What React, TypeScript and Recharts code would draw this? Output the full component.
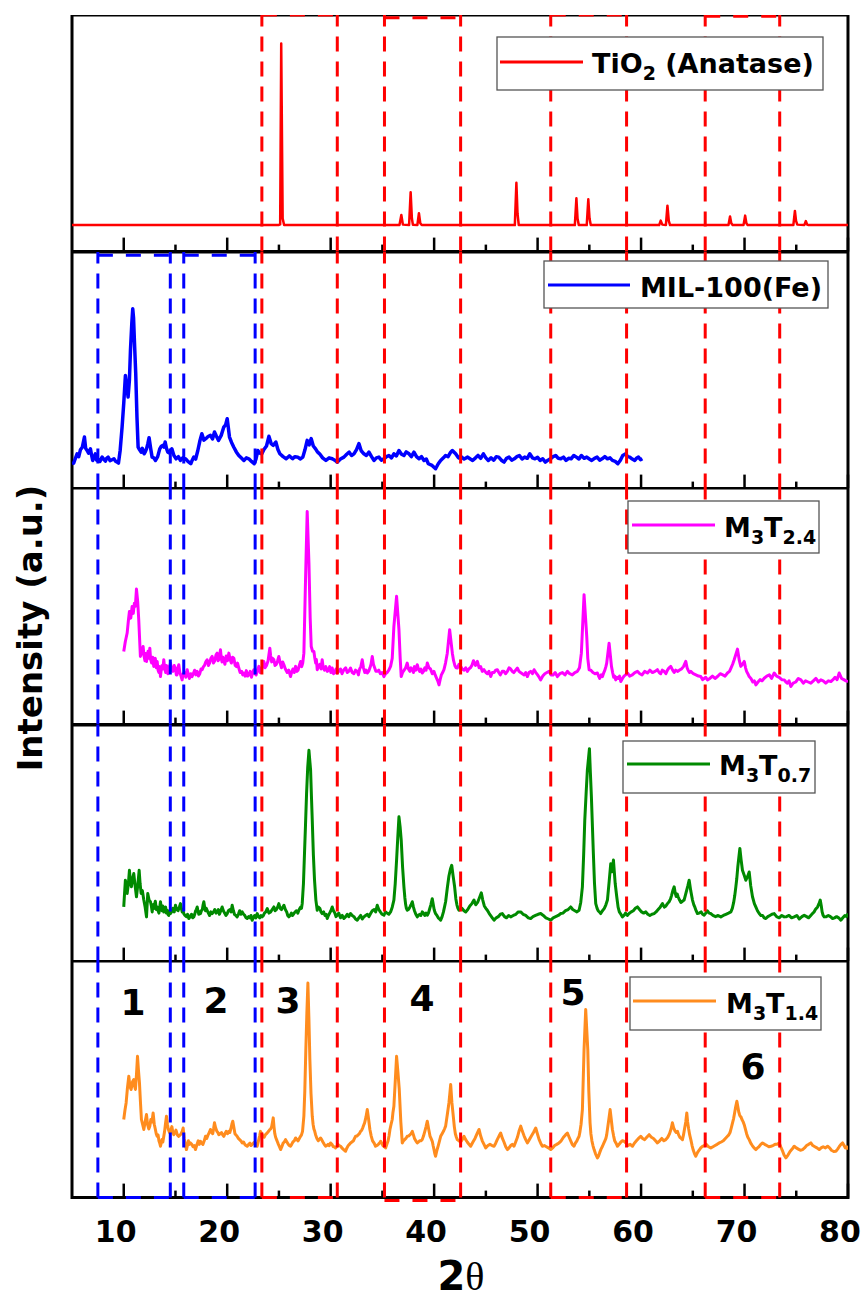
import { LineChart, Line, XAxis, YAxis, ReferenceLine, ReferenceArea, ReferenceDot } from "recharts"

type Pt = [number, number]

// 2θ axis
const xDomain: [number, number] = [5, 80]
const xTicks = [10, 15, 20, 25, 30, 35, 40, 45, 50, 55, 60, 65, 70, 75, 80]

// TiO2 (Anatase) reference pattern
const tio2: Pt[] = [
  [5, 11.2], [24.95, 11.2], [25.12, 11.5], [25.22, 88], [25.3, 45], [25.36, 14], [25.5, 11.2],
  [36.65, 11.2], [36.83, 15.5], [36.98, 11.4], [37.58, 11.2], [37.73, 25.1], [37.85, 14], [37.95, 11.3],
  [38.38, 11.2], [38.53, 16.2], [38.66, 12], [38.8, 11.2],
  [47.8, 11.2], [47.95, 29.1], [48.06, 16], [48.18, 11.2],
  [53.6, 11.2], [53.75, 22.5], [53.86, 14], [53.98, 11.2], [54.75, 11.2], [54.9, 22.1], [55.02, 14], [55.14, 11.2],
  [61.75, 11.2], [61.9, 13.1], [62.05, 11.4], [62.4, 11.2], [62.55, 19.4], [62.68, 13], [62.8, 11.2],
  [68.45, 11.2], [68.6, 14.8], [68.72, 12], [68.85, 11.2], [69.9, 11.2], [70.06, 15.2], [70.18, 12], [70.3, 11.2],
  [74.72, 11.2], [74.87, 17.2], [74.98, 13], [75.1, 11.4], [75.78, 11.2], [75.93, 12.9], [76.05, 11.4], [76.2, 11.2],
  [80, 11.2],
]

// MIL-100(Fe)
const mil100: Pt[] = [
  [5, 10.5], [5.17, 10.8], [5.3, 12.5], [5.49, 14.7], [5.65, 13.5], [5.81, 16.4], [6.0, 17.5], [6.2, 21.8],
  [6.32, 17], [6.46, 16.1], [6.6, 15], [6.78, 16.8], [6.9, 14], [7.0, 11.9], [7.12, 13], [7.26, 14.7],
  [7.38, 12], [7.49, 12.6], [7.7, 11.5], [7.91, 13.3], [8.05, 12.5], [8.23, 11.6], [8.35, 12.8], [8.49, 13.3],
  [8.68, 11.8], [8.87, 12.2], [9.05, 12.6], [9.2, 11.6], [9.35, 11.2], [9.49, 10.8], [9.65, 16],
  [9.84, 26.0], [10.0, 36], [10.16, 47.8], [10.3, 43], [10.42, 38.7], [10.55, 46], [10.65, 58.4], [10.78, 70],
  [10.87, 76.0], [10.95, 72], [11.03, 62.6], [11.16, 48.5], [11.28, 30],
  [11.39, 17.5], [11.52, 16.5], [11.68, 15.4], [11.8, 17], [11.97, 14.7], [12.08, 15.5], [12.2, 16.8],
  [12.33, 19], [12.45, 21.5], [12.6, 17], [12.74, 13.3], [12.9, 13], [13.07, 11.9], [13.28, 13.5],
  [13.48, 16.8], [13.62, 17.8], [13.77, 18.3], [13.9, 17.5], [14.0, 19.7], [14.13, 17], [14.26, 15.4],
  [14.45, 15], [14.65, 16.8], [14.85, 14], [15.06, 12.6], [15.28, 13.5], [15.48, 11.9], [15.7, 13],
  [15.97, 12.6], [16.2, 11.5], [16.48, 10.5], [16.62, 12], [16.77, 13.3], [16.95, 12.5], [17.16, 16.1],
  [17.35, 20], [17.55, 23.2], [17.75, 20.5], [17.93, 21.1], [18.15, 22], [18.38, 22.5], [18.58, 21],
  [18.77, 23.9], [18.97, 22], [19.16, 20.4], [19.42, 22.5], [19.67, 26.0], [19.85, 27], [20.0, 29.5],
  [20.1, 26], [20.22, 21.8], [20.42, 19.5], [20.64, 17.5], [20.88, 15.5], [21.12, 14.0], [21.35, 13],
  [21.61, 11.9], [21.85, 13], [22.09, 12.6], [22.35, 11.5], [22.61, 10.5], [22.78, 12.5], [22.96, 16.1],
  [23.15, 15], [23.35, 14.7], [23.55, 16.5], [23.8, 18], [24.03, 22.1], [24.25, 19], [24.45, 18.3],
  [24.7, 19.7], [24.9, 16.5], [25.09, 14.7], [25.4, 13.5], [25.7, 12.6], [26.0, 13.8], [26.32, 12.6],
  [26.55, 13.5], [26.83, 13.3], [27.05, 12.5], [27.31, 13.3], [27.52, 16.5],
  [27.73, 20.4], [27.92, 18.5], [28.12, 21.1], [28.32, 18], [28.54, 16.8], [28.72, 15.5], [28.93, 14.7],
  [29.22, 13], [29.54, 11.9], [29.85, 13], [30.15, 12.6], [30.4, 12], [30.63, 11.2], [30.95, 12.5],
  [31.28, 13.3], [31.55, 14.5], [31.79, 15.4], [32.02, 14], [32.25, 14.7], [32.5, 16.5], [32.73, 19.0],
  [32.95, 16], [33.21, 14.7], [33.45, 14], [33.7, 15.4], [33.95, 13.5], [34.18, 11.9], [34.42, 13],
  [34.66, 13.3], [34.9, 12], [35.15, 12.6], [35.4, 13.5], [35.63, 14.0], [35.88, 13], [36.11, 14.7],
  [36.35, 13.8], [36.6, 16.1], [36.85, 14.5], [37.08, 14.0], [37.3, 15.5], [37.57, 14.7], [37.8, 13.5],
  [38.05, 15.4], [38.3, 13.5], [38.53, 12.6], [38.78, 13.5], [39.02, 11.9], [39.24, 12.5], [39.44, 10.5],
  [39.8, 9.8], [40.14, 8.4], [40.4, 10.5], [40.63, 11.9], [40.9, 13], [41.11, 14.0], [41.35, 13.5],
  [41.6, 15.4], [41.76, 16.1], [42.08, 14.7], [42.35, 13], [42.6, 13.5], [42.9, 12.5], [43.24, 13.3],
  [43.5, 12.5], [43.72, 11.9], [44.0, 13], [44.24, 14.0], [44.5, 12.8], [44.76, 14.7], [45.0, 13],
  [45.24, 11.9], [45.5, 13], [45.76, 12.0], [46.0, 13.5], [46.24, 13.3], [46.5, 12], [46.76, 11.2],
  [47.0, 12.8], [47.24, 13.3], [47.5, 12], [47.75, 12.6], [48.0, 13.5], [48.24, 14.0], [48.5, 12.5],
  [48.75, 13.3], [49.0, 12.8], [49.24, 14.7], [49.5, 13], [49.75, 12.6], [50.0, 13.2], [50.24, 11.9],
  [50.5, 12.6], [50.75, 11.2], [51.0, 12], [51.24, 12.6], [51.5, 13.5], [51.75, 14.0], [52.0, 12.8],
  [52.24, 12.6], [52.5, 13.3], [52.75, 11.9], [53.0, 12.8], [53.24, 12.6], [53.5, 14], [53.75, 13.3],
  [54.0, 12.5], [54.23, 14.0], [54.5, 12.8], [54.75, 13.3], [55.0, 12.5], [55.23, 11.9], [55.5, 12.8],
  [55.75, 13.3], [56.0, 12], [56.23, 12.6], [56.5, 13.5], [56.75, 12.6], [57.0, 13], [57.23, 11.9],
  [57.5, 11.5], [57.75, 10.5], [58.0, 12], [58.23, 14.0], [58.52, 14.7], [58.7, 13.5], [58.91, 13.3],
  [59.15, 12.5], [59.39, 11.9], [59.55, 12.8], [59.75, 13.3], [59.95, 12.2], [60.13, 12.6],
]

// M3T2.4
const m3t24: Pt[] = [
  [10.0, 30.9], [10.15, 35], [10.33, 38.7], [10.45, 44], [10.55, 47.8], [10.68, 45], [10.81, 49.9],
  [10.92, 47], [11.03, 51.3], [11.12, 50], [11.23, 57.3], [11.35, 52], [11.45, 44.3],
  [11.61, 28.8], [11.75, 31], [11.87, 33.0], [11.96, 29], [12.05, 27.0], [12.12, 30], [12.2, 26.7],
  [12.28, 29], [12.35, 31], [12.43, 28], [12.52, 32.3], [12.6, 27.5], [12.7, 26], [12.8, 28.5],
  [12.9, 24.6], [12.97, 27], [13.05, 28], [13.15, 24], [13.23, 26.7], [13.32, 23], [13.4, 22],
  [13.48, 24.5], [13.55, 20.3], [13.62, 23], [13.7, 25], [13.78, 23.5], [13.87, 27.4], [13.95, 24],
  [14.05, 22], [14.12, 25], [14.19, 24.6], [14.27, 21.5], [14.35, 22], [14.43, 24.5], [14.52, 26.0],
  [14.62, 23], [14.75, 22.5], [14.88, 25], [15.0, 23.5], [15.08, 21], [15.15, 21], [15.23, 24],
  [15.32, 25.3], [15.42, 22], [15.5, 21], [15.57, 20], [15.64, 18.9], [15.75, 21.5], [15.9, 22],
  [16.0, 20], [16.13, 23.2], [16.25, 21], [16.35, 19.5], [16.48, 21.5], [16.61, 20.3], [16.72, 21.5],
  [16.85, 23], [16.97, 21], [17.1, 22.5], [17.22, 20.5], [17.35, 21.5], [17.47, 23.5], [17.58, 23.2],
  [17.7, 24.5], [17.8, 25], [17.93, 26.5], [18.06, 27.4], [18.18, 25], [18.3, 26], [18.42, 28],
  [18.55, 28.8], [18.67, 26], [18.8, 27], [18.92, 29.5], [19.03, 30.2], [19.12, 27], [19.2, 27.5],
  [19.28, 29.5], [19.35, 31.6], [19.43, 28], [19.5, 26.5], [19.58, 28.5], [19.67, 27.4], [19.78, 25.5],
  [19.9, 29], [20.02, 27], [20.16, 30.2], [20.28, 27.5], [20.4, 26], [20.52, 28.5], [20.64, 28.1],
  [20.77, 25], [20.9, 24.5], [21.0, 26], [21.12, 23.9], [21.25, 22], [21.4, 22.5], [21.5, 21],
  [21.61, 21.8], [21.72, 20.5], [21.85, 22.8], [21.97, 20.5], [22.09, 21.0], [22.22, 22.5], [22.35, 20],
  [22.45, 22], [22.58, 23.2], [22.68, 21.5], [22.8, 21], [22.92, 23], [23.06, 24.6], [23.18, 22],
  [23.3, 22.5], [23.42, 25], [23.54, 26.7], [23.66, 24], [23.8, 25], [23.95, 27], [24.12, 32.3],
  [24.2, 29], [24.3, 26.5], [24.4, 28], [24.51, 27.4], [24.62, 25], [24.75, 25.5], [24.87, 27],
  [24.99, 28.8], [25.12, 26], [25.25, 24], [25.36, 26.5], [25.48, 25.3], [25.62, 23.5], [25.8, 22],
  [25.95, 23], [26.12, 20.3], [26.22, 22], [26.35, 23.5], [26.48, 22], [26.61, 24.6], [26.73, 22.5],
  [26.85, 23], [26.97, 25], [27.09, 26.7], [27.2, 24.5], [27.3, 26], [27.41, 30.2], [27.57, 61.2],
  [27.73, 90.1], [27.9, 68.3], [28.02, 45], [28.12, 33.0], [28.25, 31], [28.38, 30.9], [28.47, 28],
  [28.55, 26], [28.62, 27.5], [28.7, 23.2], [28.82, 24.5], [28.95, 25.5], [29.07, 23.5],
  [29.18, 27.4], [29.28, 24], [29.4, 23], [29.53, 24.5], [29.67, 22.5], [29.78, 23], [29.9, 24.5],
  [30.02, 22], [30.15, 23.9], [30.28, 21.5], [30.4, 22], [30.52, 23.5], [30.63, 21.8], [30.78, 22.5],
  [30.95, 23.5], [31.1, 21.5], [31.28, 23.2], [31.45, 24], [31.6, 22], [31.75, 22.5], [31.92, 23.9],
  [32.08, 22], [32.25, 21.5], [32.4, 23], [32.57, 22.5], [32.68, 21], [32.8, 23.5], [32.92, 24.5],
  [33.05, 27.4], [33.17, 24], [33.3, 22], [33.42, 23], [33.54, 21.8], [33.67, 22.5], [33.8, 24],
  [33.9, 25.5], [34.02, 28.8], [34.13, 25.5], [34.25, 24], [34.37, 22.5], [34.5, 22.5], [34.65, 23],
  [34.8, 21.5], [34.97, 22], [35.15, 20.3], [35.3, 21.5], [35.45, 22], [35.62, 23], [35.79, 24.6],
  [35.95, 28], [36.11, 41.5], [36.37, 54.2], [36.6, 40.1], [36.72, 28],
  [36.82, 20.3], [36.95, 22], [37.1, 23], [37.25, 24], [37.4, 26.0], [37.52, 23.5], [37.65, 22.5],
  [37.77, 24], [37.89, 23.2], [38.0, 22], [38.1, 24.5], [38.23, 23], [38.37, 25.3], [38.48, 23.5],
  [38.6, 22.5], [38.72, 23.5], [38.85, 21.8], [38.97, 22.5], [39.1, 24], [39.22, 23], [39.34, 26.0],
  [39.5, 24], [39.65, 23.5], [39.82, 21.5], [39.98, 22.5], [40.1, 21], [40.2, 20],
  [40.35, 18.5], [40.47, 16.8], [40.58, 19], [40.7, 21], [40.82, 22], [40.95, 23.2], [41.1, 26],
  [41.27, 30.2], [41.5, 40.1], [41.76, 30.2], [41.88, 27], [42.0, 25], [42.12, 24],
  [42.24, 23.9], [42.4, 25.5], [42.56, 24.6], [42.72, 23.5], [42.9, 23], [43.05, 24], [43.21, 22.5],
  [43.35, 23.5], [43.5, 24], [43.65, 25], [43.8, 27], [44.0, 25], [44.18, 26.7], [44.35, 24],
  [44.5, 24.5], [44.65, 22.5], [44.82, 23.2], [45.0, 22], [45.15, 21.5], [45.3, 22.5], [45.47, 20.3],
  [45.62, 22], [45.8, 22], [45.95, 23], [46.11, 23.2], [46.25, 22], [46.4, 21], [46.58, 22.5],
  [46.75, 22.5], [46.9, 21.5], [47.08, 22.5], [47.24, 24], [47.4, 23.5], [47.55, 22.5], [47.7, 22],
  [47.88, 23], [48.05, 23.9], [48.2, 22.5], [48.35, 22], [48.52, 21.5], [48.7, 21], [48.85, 22],
  [49.01, 20.3], [49.17, 22], [49.33, 22.5], [49.5, 21.5], [49.66, 23.2], [49.83, 22], [50.0, 21],
  [50.15, 20], [50.3, 18.9], [50.5, 20.5], [50.7, 21.5], [50.9, 22], [51.11, 22.5], [51.3, 21],
  [51.5, 21], [51.7, 22], [51.91, 20.3], [52.15, 21.5], [52.4, 22], [52.65, 21], [52.88, 22.5],
  [53.1, 21.5], [53.35, 21], [53.6, 22], [53.85, 22.5], [54.05, 24], [54.23, 30.2], [54.49, 54.9],
  [54.75, 37.3], [54.85, 28], [54.98, 23.2], [55.15, 23], [55.35, 22], [55.55, 21.5], [55.78, 21.8],
  [55.9, 20.5], [56.0, 19.5], [56.15, 21], [56.27, 20.3], [56.4, 22], [56.5, 23], [56.6, 24.5],
  [56.68, 26.0], [56.91, 34.4], [57.14, 24.6], [57.25, 22], [57.35, 20], [57.45, 20.5], [57.55, 18.9],
  [57.68, 20], [57.8, 19.5], [57.92, 20.5], [58.04, 18.2], [58.2, 19.5], [58.35, 20.5], [58.5, 21],
  [58.68, 21.8], [58.9, 20.5], [59.15, 21], [59.4, 22], [59.65, 22.5], [59.88, 21.5], [60.1, 21],
  [60.35, 22.5], [60.62, 21.8], [60.85, 23], [61.1, 22], [61.35, 22.5], [61.58, 23.2], [61.75, 22],
  [61.9, 21.5], [62.05, 23], [62.23, 22.5], [62.4, 21.5], [62.55, 23], [62.7, 24], [62.87, 24.6],
  [63.05, 23], [63.2, 22], [63.35, 23], [63.52, 22.5], [63.7, 23], [63.9, 23.5], [64.1, 24.5],
  [64.32, 26.7], [64.45, 24], [64.55, 23], [64.68, 22], [64.81, 22.5], [65.05, 21.5], [65.3, 21],
  [65.55, 20.5], [65.77, 20.3], [65.95, 19], [66.1, 19.5], [66.25, 20], [66.42, 18.9], [66.65, 19.5],
  [66.9, 20.5], [67.15, 19.5], [67.39, 20.3], [67.65, 21.5], [67.9, 21], [68.12, 20.5], [68.35, 21.8],
  [68.55, 22.5], [68.7, 24], [68.85, 25.5], [69.0, 27.4], [69.32, 31.9], [69.5, 27],
  [69.64, 24.6], [69.8, 25.5], [69.97, 26.7], [70.1, 24], [70.2, 22.5], [70.32, 21.5], [70.45, 20.3],
  [70.62, 19.5], [70.8, 18], [70.95, 18.5], [71.1, 16.8], [71.3, 18], [71.5, 19], [71.7, 18.5],
  [71.9, 19.6], [72.15, 20.5], [72.4, 21], [72.62, 19.5], [72.87, 21.8], [73.1, 20.5], [73.35, 20],
  [73.6, 19], [73.84, 18.9], [74.0, 18], [74.15, 17.5], [74.3, 18.5], [74.48, 16.1], [74.7, 17.5],
  [74.95, 18], [75.2, 19.5], [75.45, 18.9], [75.68, 17.5], [75.9, 18.5], [76.15, 18], [76.41, 17.5],
  [76.65, 18.5], [76.9, 19.5], [77.15, 18], [77.38, 18.9], [77.6, 18.5], [77.85, 17.5], [78.1, 18.5],
  [78.35, 18.2], [78.55, 19], [78.75, 20], [78.95, 19], [79.15, 21.8], [79.38, 19.5], [79.6, 19],
  [79.8, 18.5], [80, 18.2],
]

// M3T0.7
const m3t07: Pt[] = [
  [10.0, 23.1], [10.08, 29], [10.16, 34.4], [10.25, 30], [10.33, 28.8], [10.45, 33], [10.55, 38.6],
  [10.64, 34], [10.74, 31.6], [10.85, 35], [10.97, 37.2], [11.1, 32], [11.23, 27.4], [11.35, 32],
  [11.49, 38.6], [11.58, 33], [11.68, 28.8], [11.8, 30], [11.94, 26.0], [12.07, 23], [12.2, 18.9],
  [12.32, 28.8], [12.45, 26], [12.58, 25.3], [12.67, 23.5], [12.75, 21], [12.82, 24],
  [12.9, 22.4], [12.97, 24], [13.05, 25.5], [13.15, 22], [13.23, 23.1], [13.32, 21.5], [13.4, 20.5],
  [13.48, 23], [13.55, 25.3], [13.62, 23], [13.7, 21.5], [13.78, 23.5], [13.87, 21.0], [13.95, 22],
  [14.05, 23], [14.12, 20.5], [14.19, 21.7], [14.27, 20], [14.35, 19.5], [14.43, 21.5], [14.52, 20.3],
  [14.62, 21], [14.75, 22.5], [14.88, 21], [15.0, 23.8], [15.12, 22], [15.25, 21.5], [15.37, 23],
  [15.48, 24.5], [15.57, 22.5], [15.65, 21], [15.72, 22], [15.8, 20.3], [15.92, 19.5], [16.05, 19],
  [16.17, 20], [16.29, 18.2], [16.42, 19], [16.55, 20], [16.66, 18.5], [16.77, 18.9], [16.86, 20],
  [16.95, 21.5], [17.02, 22], [17.1, 23.1], [17.17, 21.5], [17.25, 20], [17.33, 21], [17.42, 20.3],
  [17.5, 21.5], [17.6, 22], [17.67, 24], [17.74, 25.3], [17.82, 23], [17.9, 21.5], [17.98, 22.5],
  [18.06, 21.7], [18.18, 20.5], [18.3, 19.5], [18.42, 21], [18.55, 20.3], [18.68, 21], [18.8, 22],
  [18.92, 20.5], [19.03, 21.0], [19.14, 22], [19.25, 20], [19.38, 21.5], [19.51, 23.1], [19.63, 21.5],
  [19.75, 20.5], [19.88, 19.5], [20.0, 20.3], [20.12, 21.5], [20.25, 22], [20.37, 21], [20.48, 23.8],
  [20.6, 21.5], [20.7, 20], [20.83, 19.5], [20.96, 18.9], [21.08, 20], [21.2, 21.5], [21.32, 20],
  [21.45, 21.0], [21.58, 20], [21.7, 19.5], [21.82, 18.5], [21.93, 18.2], [22.07, 19], [22.2, 18.5],
  [22.3, 19.5], [22.41, 17.5], [22.53, 18.5], [22.65, 19.5], [22.77, 18.5], [22.9, 20.3], [23.02, 19],
  [23.15, 18.5], [23.27, 19.5], [23.38, 18.9], [23.5, 19.5], [23.6, 20.5], [23.73, 21], [23.87, 22.4],
  [24.03, 20.5], [24.2, 21], [24.35, 22], [24.51, 23.1], [24.63, 21.5], [24.75, 22], [24.87, 23],
  [24.99, 24.5], [25.12, 22.5], [25.25, 22], [25.37, 23], [25.48, 23.8], [25.62, 22], [25.75, 21],
  [25.85, 19.5], [25.96, 18.9], [26.08, 19.5], [26.2, 20.5], [26.32, 19.5], [26.44, 20.3],
  [26.57, 21], [26.7, 21.5], [26.82, 20.5], [26.93, 21.7], [27.02, 22.5], [27.1, 23], [27.18, 22.5],
  [27.25, 24.5], [27.37, 33], [27.47, 45.7], [27.57, 58], [27.67, 71.0], [27.78, 82], [27.9, 89.3],
  [28.06, 80.9], [28.14, 70], [28.22, 59.8], [28.33, 45], [28.44, 34.4], [28.57, 26], [28.7, 21.7],
  [28.82, 23], [28.95, 22.5], [29.07, 21], [29.18, 20.3], [29.32, 21], [29.45, 19.5], [29.56, 20],
  [29.67, 18.2], [29.78, 19.5], [29.9, 20.5], [30.02, 21.5], [30.15, 23.1], [30.27, 21.5], [30.4, 20.5],
  [30.52, 19], [30.63, 19.6], [30.78, 20.5], [30.95, 18.5], [31.12, 19.5], [31.28, 18.2], [31.45, 19],
  [31.6, 20], [31.75, 19], [31.92, 20.3], [32.08, 19.5], [32.25, 19], [32.4, 18], [32.57, 17.5],
  [32.72, 18.5], [32.9, 19.5], [33.05, 18], [33.21, 18.9], [33.38, 19.5], [33.55, 20], [33.7, 19],
  [33.86, 20.3], [34.02, 21.5], [34.2, 22], [34.35, 21], [34.5, 23.8], [34.65, 22], [34.8, 21],
  [34.97, 20], [35.15, 19.6], [35.3, 21], [35.45, 20.5], [35.62, 20], [35.79, 21.0], [35.95, 23],
  [36.11, 26.0], [36.24, 33], [36.37, 42.9], [36.48, 52], [36.6, 61.2], [36.71, 57], [36.82, 51.3],
  [36.95, 40], [37.08, 31.6], [37.17, 27], [37.25, 24], [37.32, 22.5], [37.4, 21.7], [37.52, 22],
  [37.65, 23], [37.77, 24], [37.89, 25.3], [38.0, 23], [38.1, 21.5], [38.23, 20], [38.37, 18.9],
  [38.48, 19.5], [38.6, 20], [38.72, 19.5], [38.85, 21.0], [38.97, 20.5], [39.1, 19.5], [39.22, 20.5],
  [39.34, 19.6], [39.45, 20.5], [39.55, 22], [39.68, 24], [39.82, 26.6], [39.92, 24], [40.0, 22],
  [40.07, 21], [40.14, 20.3], [40.27, 19.5], [40.4, 18.5], [40.52, 18], [40.63, 17.5], [40.77, 19],
  [40.9, 21], [41.0, 23], [41.11, 25.3], [41.27, 31], [41.43, 36.2], [41.57, 39], [41.7, 40.7],
  [41.84, 36], [41.98, 31.6], [42.1, 26.5], [42.2, 24], [42.3, 22.5], [42.4, 21.7], [42.55, 22],
  [42.7, 22.5], [42.88, 21.5], [43.05, 21.0], [43.25, 22], [43.45, 23.5], [43.65, 24.5], [43.85, 26.0],
  [44.02, 24], [44.2, 25], [44.38, 27], [44.56, 29.05], [44.7, 26], [44.85, 23.5], [45.0, 22.5],
  [45.14, 21.7], [45.3, 20.5], [45.45, 19.5], [45.62, 18.5], [45.79, 17.5], [46.0, 18.5], [46.2, 19],
  [46.4, 20], [46.59, 20.3], [46.8, 19], [47.0, 18.5], [47.2, 19.5], [47.4, 18.9], [47.65, 19.5],
  [47.9, 20], [48.13, 21], [48.37, 21.0], [48.6, 20], [48.85, 19.5], [49.1, 18.5], [49.33, 18.2],
  [49.55, 19], [49.8, 19.5], [50.05, 20], [50.3, 20.3], [50.55, 19.5], [50.8, 18.5], [51.05, 18],
  [51.27, 17.5], [51.5, 18.5], [51.75, 19], [52.0, 19.5], [52.24, 20.3], [52.45, 20.5], [52.7, 21.5],
  [52.95, 22], [53.2, 23.1], [53.4, 22], [53.6, 21.5], [53.8, 21], [54.01, 21.7], [54.17, 25],
  [54.33, 31.6], [54.45, 45], [54.56, 59.8], [54.7, 72], [54.81, 80.9], [55.01, 90.0], [55.1, 80],
  [55.2, 69.6], [55.3, 57], [55.39, 45.7], [55.5, 33], [55.62, 24.5], [55.75, 22.5], [55.85, 21.5],
  [55.97, 21], [56.1, 20.3], [56.27, 21.5], [56.45, 22.5], [56.6, 24], [56.75, 26.0], [56.92, 34],
  [57.07, 41.4], [57.2, 38], [57.33, 42.9], [57.5, 33], [57.65, 27.4], [57.78, 23], [57.9, 21],
  [58.05, 20], [58.2, 18.9], [58.35, 19.5], [58.5, 20.5], [58.67, 19.5], [58.84, 20.3], [59.05, 21],
  [59.25, 21.5], [59.45, 22.5], [59.65, 23.1], [59.85, 22], [60.05, 21], [60.25, 20.5], [60.46, 21.0],
  [60.65, 20], [60.85, 19.5], [61.05, 20], [61.26, 20.3], [61.45, 21], [61.65, 22], [61.85, 23],
  [62.07, 24.5], [62.25, 23], [62.4, 23.5], [62.55, 24.5], [62.71, 25.3], [62.85, 26.5], [62.95, 28],
  [63.07, 30], [63.2, 31.6], [63.3, 29], [63.4, 27.5], [63.5, 28.5], [63.58, 27.4], [63.72, 26],
  [63.85, 25], [64.0, 25.5], [64.16, 26.0], [64.28, 28], [64.4, 30], [64.52, 32], [64.65, 34.4],
  [64.8, 30], [64.97, 26.0], [65.1, 24], [65.2, 23], [65.32, 21.5], [65.45, 20.3], [65.62, 20.5],
  [65.8, 21], [65.95, 20], [66.1, 19.6], [66.25, 20.5], [66.4, 21.5], [66.58, 20.5], [66.74, 20.3],
  [66.95, 19.5], [67.2, 19], [67.45, 19.5], [67.71, 18.9], [67.95, 19.5], [68.2, 20], [68.45, 20.5],
  [68.68, 21.0], [68.82, 22.5], [68.95, 25], [69.06, 28], [69.16, 31.6], [69.25, 35], [69.35, 40],
  [69.45, 44], [69.55, 47.8], [69.67, 43], [69.8, 38.6], [69.97, 36.5], [70.13, 34.4], [70.3, 36],
  [70.45, 37.9], [70.6, 32], [70.77, 27.4], [70.95, 24.5], [71.1, 23], [71.25, 21.5], [71.42, 20.3],
  [71.58, 19.5], [71.75, 19.5], [71.9, 18.5], [72.06, 18.2], [72.25, 19], [72.45, 19.5], [72.65, 20],
  [72.87, 20.3], [73.1, 19], [73.35, 18.5], [73.6, 19.5], [73.84, 18.9], [74.05, 19], [74.3, 19.5],
  [74.55, 18.5], [74.8, 18.9], [75.05, 19.5], [75.3, 18], [75.55, 19], [75.77, 19.6], [76.0, 19],
  [76.2, 18.5], [76.4, 19.5], [76.57, 20.3], [76.72, 21], [76.85, 22], [76.95, 22.5], [77.06, 23.1],
  [77.2, 24.5], [77.32, 26.0], [77.42, 23.5], [77.5, 21], [77.6, 19.5], [77.7, 18.9], [77.9, 19],
  [78.1, 19.5], [78.3, 19], [78.51, 18.2], [78.7, 18.5], [78.9, 19], [79.1, 18.5], [79.31, 17.5],
  [79.5, 18.5], [79.7, 19.5], [79.85, 19], [80, 20.3],
]

// M3T1.4
const m3t14: Pt[] = [
  [10.0, 33.0], [10.12, 37], [10.23, 40.0], [10.35, 46], [10.49, 51.3], [10.6, 47], [10.71, 45.7],
  [10.85, 49], [10.97, 49.9], [11.05, 47], [11.13, 45.7], [11.23, 52], [11.33, 59.7], [11.42, 54],
  [11.52, 48.5], [11.62, 40], [11.71, 33.0], [11.82, 31], [11.94, 28.8], [12.07, 32], [12.2, 35.1],
  [12.3, 31], [12.42, 29], [12.52, 30.2], [12.62, 33], [12.73, 32], [12.84, 35.8], [12.95, 31],
  [13.05, 29], [13.14, 27], [13.23, 25.9], [13.32, 26.5], [13.4, 24], [13.48, 23], [13.55, 21.7],
  [13.62, 23], [13.7, 24.5], [13.78, 23.5], [13.87, 25.9], [13.95, 28], [14.03, 31], [14.13, 34.4],
  [14.22, 31], [14.3, 29], [14.38, 28], [14.45, 27.3], [14.55, 28.5], [14.65, 30], [14.75, 27.5],
  [14.84, 26.6], [14.95, 27.5], [15.05, 28.5], [15.18, 26.5], [15.32, 25.9], [15.45, 26.5], [15.55, 27],
  [15.65, 28], [15.74, 29.4], [15.85, 25], [15.95, 22.5], [16.06, 20.3], [16.15, 22], [16.25, 24],
  [16.35, 22.5], [16.45, 23.1], [16.57, 22.5], [16.7, 21.5], [16.82, 22], [16.93, 20.3], [17.05, 22],
  [17.2, 24], [17.3, 22.5], [17.42, 23.8], [17.53, 23], [17.65, 22.5], [17.78, 24], [17.9, 25.9],
  [18.02, 25], [18.15, 26.5], [18.27, 27.5], [18.38, 28.8], [18.5, 27.5], [18.6, 27], [18.68, 29],
  [18.77, 31.6], [18.88, 29.5], [19.0, 28], [19.1, 27.5], [19.19, 26.6], [19.32, 27], [19.45, 27.5],
  [19.56, 26.5], [19.67, 25.9], [19.78, 27], [19.9, 28], [20.03, 27], [20.16, 28.0], [20.25, 27.5],
  [20.35, 29], [20.45, 31], [20.54, 32.3], [20.65, 29.5], [20.75, 27], [20.85, 26.5], [20.96, 25.9],
  [21.08, 25], [21.2, 24.5], [21.32, 24], [21.45, 23.1], [21.58, 23.5], [21.7, 22.5], [21.82, 22],
  [21.93, 21.7], [22.07, 22.5], [22.2, 23], [22.3, 22], [22.41, 22.4], [22.53, 23], [22.65, 23.5],
  [22.77, 22.5], [22.9, 21.7], [22.97, 23], [23.05, 24.5], [23.13, 26], [23.22, 28.0], [23.33, 27],
  [23.45, 26], [23.57, 25.5], [23.7, 26.6], [23.8, 27], [23.9, 27.5], [24.0, 28], [24.12, 28.8],
  [24.2, 29], [24.3, 30], [24.38, 32], [24.45, 33.7], [24.52, 30], [24.6, 27], [24.68, 25.5],
  [24.77, 24.5], [24.86, 23.5], [24.95, 22.5], [25.05, 21.5], [25.16, 20.3], [25.28, 21.5],
  [25.4, 23], [25.52, 23.5], [25.64, 24.5], [25.77, 23.5], [25.9, 22.5], [26.0, 22], [26.12, 21.7],
  [26.23, 22.5], [26.35, 23.5], [26.48, 24], [26.61, 25.2], [26.73, 24.5], [26.85, 24], [26.97, 25],
  [27.09, 25.9], [27.18, 26.5], [27.28, 28], [27.41, 34.4], [27.5, 45], [27.6, 62.6], [27.7, 78],
  [27.8, 90.7], [27.9, 75], [27.99, 58.3], [28.1, 44], [28.22, 34.4], [28.3, 31], [28.38, 29],
  [28.46, 28], [28.54, 26.6], [28.67, 25], [28.8, 24], [28.9, 24.5], [29.02, 25.2], [29.13, 24.5],
  [29.25, 23.5], [29.38, 22.5], [29.51, 21.7], [29.63, 22], [29.75, 22.5], [29.87, 22], [29.99, 23.1],
  [30.12, 22.5], [30.25, 21.5], [30.36, 21.5], [30.47, 21.0], [30.58, 21.5], [30.7, 22.5], [30.83, 22],
  [30.96, 21.7], [31.08, 21], [31.2, 20.5], [31.32, 20], [31.44, 19.6], [31.57, 21], [31.7, 22],
  [31.81, 22.5], [31.92, 23.1], [32.05, 23.5], [32.2, 24], [32.3, 25], [32.41, 25.9], [32.53, 26],
  [32.65, 26.5], [32.77, 27], [32.89, 28.0], [33.0, 28.5], [33.1, 29.5], [33.18, 30.5], [33.28, 31.6],
  [33.41, 34], [33.54, 37.2], [33.67, 33], [33.79, 28.8], [33.92, 26], [34.05, 24], [34.2, 23],
  [34.34, 21.7], [34.47, 22], [34.6, 22.5], [34.72, 23], [34.83, 23.8], [34.94, 23], [35.05, 22],
  [35.18, 21.5], [35.31, 21.0], [35.43, 22.5], [35.55, 24], [35.64, 26], [35.73, 28.8], [35.84, 31],
  [35.95, 33], [36.02, 36], [36.11, 38.6], [36.24, 49], [36.37, 59.7], [36.5, 53], [36.63, 45.7],
  [36.78, 32], [36.92, 23.1], [37.03, 24], [37.15, 24.5], [37.27, 25], [37.4, 25.9], [37.52, 26],
  [37.65, 26.5], [37.77, 27], [37.89, 28.0], [38.0, 26.5], [38.1, 25], [38.23, 24], [38.37, 23.1],
  [38.48, 23.5], [38.6, 24], [38.72, 24], [38.85, 24.5], [38.97, 26], [39.1, 28], [39.22, 30],
  [39.34, 32.3], [39.47, 29], [39.6, 26], [39.7, 25], [39.82, 23.8], [39.9, 22], [40.0, 20],
  [40.07, 18.5], [40.14, 17.5], [40.27, 20], [40.4, 22], [40.52, 24], [40.63, 25.9], [40.77, 27],
  [40.9, 28], [41.0, 29], [41.11, 30.2], [41.27, 35], [41.43, 40.0], [41.52, 44], [41.6, 47.8],
  [41.72, 40], [41.85, 34.4], [41.95, 30], [42.05, 27], [42.15, 25.5], [42.24, 24.5], [42.4, 24],
  [42.55, 23.5], [42.72, 24.5], [42.89, 25.9], [43.05, 24.5], [43.2, 23.5], [43.37, 22.5],
  [43.53, 21.7], [43.75, 23.5], [43.95, 25], [44.15, 27], [44.34, 28.8], [44.5, 26], [44.65, 24],
  [44.82, 22.5], [44.98, 21.0], [45.2, 22], [45.4, 22.5], [45.6, 22], [45.79, 21.7], [45.95, 23],
  [46.1, 24.5], [46.27, 26], [46.43, 27.3], [46.6, 25], [46.75, 23.5], [46.92, 21.5], [47.08, 20.3],
  [47.24, 21], [47.4, 22], [47.55, 22.5], [47.72, 21.7], [47.88, 23.5], [48.05, 25.5], [48.2, 28],
  [48.37, 30.2], [48.53, 28], [48.7, 26], [48.85, 24.5], [49.01, 23.1], [49.2, 24.5], [49.4, 26],
  [49.6, 27.5], [49.82, 29.4], [49.98, 27], [50.15, 24.5], [50.3, 23], [50.46, 21.7], [50.65, 22],
  [50.85, 21.5], [51.05, 21], [51.27, 20.3], [51.45, 21], [51.65, 22], [51.85, 22.5], [52.07, 23.1],
  [52.28, 24], [52.5, 25.5], [52.7, 26.5], [52.88, 27.3], [53.05, 25.5], [53.2, 24], [53.35, 22.5],
  [53.52, 21.7], [53.65, 23], [53.8, 24], [53.9, 25], [54.01, 25.9], [54.1, 28], [54.2, 31],
  [54.33, 37.2], [54.49, 62.6], [54.65, 79.5], [54.85, 62.6], [54.95, 45], [55.07, 31.6], [55.15, 27],
  [55.25, 24], [55.35, 22], [55.46, 20.3], [55.6, 18.5], [55.78, 16.8], [55.88, 17.5], [56.0, 19],
  [56.13, 20.5], [56.27, 21.7], [56.4, 23], [56.5, 24], [56.6, 25], [56.68, 26.6], [56.85, 32],
  [57.01, 37.2], [57.12, 33], [57.23, 28.8], [57.35, 26], [57.45, 24], [57.58, 23], [57.72, 21.7],
  [57.88, 22.5], [58.05, 23.5], [58.2, 24], [58.36, 23.8], [58.55, 23], [58.75, 22], [58.95, 22.5],
  [59.17, 21.7], [59.35, 23], [59.55, 24], [59.75, 25], [59.97, 25.9], [60.15, 25], [60.35, 24.5],
  [60.55, 25.5], [60.78, 26.6], [61.0, 25.5], [61.2, 25], [61.4, 24], [61.58, 23.1], [61.8, 24],
  [62.0, 25], [62.2, 24], [62.39, 24.5], [62.58, 25.5], [62.75, 27], [62.9, 29], [63.03, 31.6],
  [63.15, 29.5], [63.3, 28], [63.4, 27.5], [63.52, 28.0], [63.63, 26.5], [63.75, 25.5], [63.88, 25],
  [64.0, 24.5], [64.1, 26.5], [64.2, 29], [64.32, 32], [64.42, 35.8], [64.5, 32], [64.6, 29],
  [64.7, 26.5], [64.81, 24.5], [64.93, 22], [65.05, 20], [65.17, 18.5], [65.29, 17.5], [65.45, 19],
  [65.6, 20], [65.77, 21], [65.94, 21.7], [66.1, 22], [66.3, 22.5], [66.52, 21.5], [66.74, 21.0],
  [66.95, 21.5], [67.15, 22], [67.35, 22.5], [67.55, 23.1], [67.75, 23.5], [67.95, 24], [68.15, 25],
  [68.35, 25.9], [68.48, 26.5], [68.6, 27.5], [68.72, 29.5], [68.84, 31.6], [68.95, 33.5], [69.05, 36],
  [69.15, 38.5], [69.26, 40.7], [69.35, 38.5], [69.45, 36], [69.52, 35], [69.58, 34.4], [69.67, 34],
  [69.75, 33], [69.87, 32], [69.97, 30.8], [70.08, 29], [70.2, 27], [70.32, 25.5], [70.45, 24.5],
  [70.6, 23], [70.75, 22], [70.92, 21], [71.1, 20.3], [71.25, 21], [71.4, 21.5], [71.57, 22.5],
  [71.74, 23.1], [71.95, 22.5], [72.15, 22], [72.35, 21.5], [72.55, 21.7], [72.75, 22], [72.95, 22.5],
  [73.15, 22.5], [73.35, 23.1], [73.5, 21.5], [73.65, 20], [73.82, 18], [74.0, 16.8], [74.2, 18],
  [74.4, 19.5], [74.6, 20.5], [74.8, 21.7], [75.0, 21], [75.2, 20.5], [75.4, 20], [75.61, 20.3],
  [75.8, 21], [76.0, 22], [76.2, 22.5], [76.41, 23.1], [76.6, 22], [76.8, 21.5], [77.0, 21],
  [77.22, 20.3], [77.4, 21], [77.6, 21.5], [77.82, 21], [78.03, 21.7], [78.22, 21], [78.4, 20],
  [78.62, 19.5], [78.83, 19.6], [79.0, 20.5], [79.15, 21.5], [79.32, 22.5], [79.48, 23.1],
  [79.62, 22], [79.75, 21], [79.88, 21.5], [80, 20.3],
]

// highlighted 2θ regions (dashed boxes)
const blueRegions: Pt[] = [[7.5, 14.5], [15.8, 22.7]]
const redRegions: Pt[] = [[23.35, 30.64], [35.2, 42.56], [51.27, 58.6], [66.2, 73.4]]
const redRegionTops = [100, 98.8, 100, 99.5]
const redRegionBottoms = [0, -1.2, 0, 0]
const blueRegionTop = 98.6

// region numbers in the bottom panel
const regionNames = ["1", "2", "3", "4", "5", "6"]
const regionNameX = [10.9, 18.92, 25.88, 38.83, 53.42, 70.82]
const regionNameY = [82.8, 83.7, 83.7, 84.5, 86.8, 55.5]

const W = 862
const PLOT_TOP = 15
const PANEL_H = 236.6
const BOTTOM_EXTRA = 109
const FONT = "'DejaVu Sans', sans-serif"
const MAJOR_LEN = 14 / PANEL_H * 100
const MINOR_LEN = 7 / PANEL_H * 100

type Panel = {
  data: Pt[]
  color: string
  width: number
  name: string
}

const panels: Panel[] = [
  { data: tio2, color: "#ff0000", width: 2.5, name: "TiO2" },
  { data: mil100, color: "#0000ff", width: 3.5, name: "MIL" },
  { data: m3t24, color: "#ff00ff", width: 3, name: "M3T2.4" },
  { data: m3t07, color: "#008a00", width: 3, name: "M3T0.7" },
  { data: m3t14, color: "#ff8c1e", width: 3, name: "M3T1.4" },
]

// legend boxes, page coordinates
const legends = [
  { box: [497, 37, 326, 53], line: [500, 583, 62], text: [592, 73] },
  { box: [544, 261, 284, 47], line: [548, 630, 285], text: [640, 297] },
  { box: [628, 501, 191, 52], line: [632, 715, 525], text: [724, 537] },
  { box: [623, 741, 192, 52], line: [627, 710, 764], text: [719, 775] },
  { box: [630, 977, 191, 53], line: [633, 716, 1001], text: [726, 1013] },
]

function legendText(i: number) {
  const sub = { fontSize: 19 }
  if (i === 0)
    return (
      <>
        TiO<tspan dy={7} style={sub}>2</tspan>
        <tspan dy={-7}> (Anatase)</tspan>
      </>
    )
  if (i === 1) return <>MIL-100(Fe)</>
  const s = ["", "", "2.4", "0.7", "1.4"][i]
  return (
    <>
      M<tspan dy={7} style={sub}>3</tspan>
      <tspan dy={-7}>T</tspan>
      <tspan dy={7} style={sub}>{s}</tspan>
    </>
  )
}

function PanelChart({ panel, index }: { panel: Panel; index: number }) {
  const last = index === panels.length - 1
  const rows = panel.data.map(([x, y]) => ({ x, y }))
  const dash = { strokeWidth: 3, strokeDasharray: "15 10" }
  const edge = { strokeWidth: 3, strokeDasharray: "15 13", ifOverflow: "visible" as const }
  return (
    <div style={{ position: "absolute", left: 0, top: PLOT_TOP + index * PANEL_H }}>
      <LineChart
        width={W}
        height={PANEL_H + (last ? BOTTOM_EXTRA : 0)}
        data={rows}
        margin={{ top: 0, right: 14, bottom: last ? BOTTOM_EXTRA : 0, left: 72 }}
      >
        <XAxis type="number" dataKey="x" domain={xDomain} allowDataOverflow hide />
        <YAxis type="number" domain={[0, 100]} hide allowDataOverflow />
        <ReferenceArea x1={5} x2={80} y1={0} y2={100} fill="none" stroke="#000" strokeWidth={3} />
        {xTicks.map((t) => (
          <ReferenceLine
            key={`tk${t}`}
            segment={[{ x: t, y: 0 }, { x: t, y: t % 10 === 0 ? MAJOR_LEN : MINOR_LEN }]}
            stroke="#000"
            strokeWidth={2.5}
          />
        ))}
        {last &&
          xTicks
            .filter((t) => t % 10 === 0)
            .map((t) => (
              <ReferenceDot
                key={`tl${t}`}
                x={t}
                y={0}
                r={0}
                ifOverflow="visible"
                shape={(p: any) => (
                  <text x={p.cx - 8} y={p.cy + 44} textAnchor="middle" fontFamily={FONT} fontWeight="bold" fontSize={30} fill="#000">
                    {t}
                  </text>
                )}
              />
            ))}
        <Line
          type="linear"
          dataKey="y"
          stroke={panel.color}
          strokeWidth={panel.width}
          strokeLinejoin="round"
          dot={false}
          activeDot={false}
          isAnimationActive={false}
        />
        {index > 0 &&
          blueRegions.flatMap(([a, b], k) => [
            <ReferenceLine key={`ba${k}`} x={a} stroke="#0000ff" {...dash} />,
            <ReferenceLine key={`bb${k}`} x={b} stroke="#0000ff" {...dash} />,
          ])}
        {redRegions.flatMap(([a, b], k) => [
          <ReferenceLine key={`ra${k}`} x={a} stroke="#ff0000" {...dash} />,
          <ReferenceLine key={`rb${k}`} x={b} stroke="#ff0000" {...dash} />,
        ])}
        {index === 0 &&
          redRegions.map(([a, b], k) => (
            <ReferenceLine
              key={`rt${k}`}
              segment={[{ x: a, y: redRegionTops[k] }, { x: b, y: redRegionTops[k] }]}
              stroke="#ff0000"
              {...edge}
            />
          ))}
        {index === 1 &&
          blueRegions.map(([a, b], k) => (
            <ReferenceLine
              key={`bt${k}`}
              segment={[{ x: a, y: blueRegionTop }, { x: b, y: blueRegionTop }]}
              stroke="#0000ff"
              {...edge}
            />
          ))}
        {last &&
          blueRegions.map(([a, b], k) => (
            <ReferenceLine key={`bbot${k}`} segment={[{ x: a, y: 0 }, { x: b, y: 0 }]} stroke="#0000ff" {...edge} />
          ))}
        {last &&
          redRegions.map(([a, b], k) => (
            <ReferenceLine
              key={`rbot${k}`}
              segment={[{ x: a, y: redRegionBottoms[k] }, { x: b, y: redRegionBottoms[k] }]}
              stroke="#ff0000"
              {...edge}
            />
          ))}
        {last &&
          regionNames.map((n, k) => (
            <ReferenceDot
              key={`n${k}`}
              x={regionNameX[k]}
              y={regionNameY[k]}
              r={0}
              ifOverflow="visible"
              shape={(p: any) => (
                <text x={p.cx} y={p.cy} dy="0.36em" textAnchor="middle" fontFamily={FONT} fontWeight="bold" fontSize={36} fill="#000">
                  {n}
                </text>
              )}
            />
          ))}
      </LineChart>
    </div>
  )
}

export default function App() {
  return (
    <div style={{ position: "relative", width: W, height: 1307, background: "#fff", overflow: "hidden" }}>
      <style>{"body{margin:0}"}</style>
      {panels.map((p, i) => (
        <PanelChart key={p.name} panel={p} index={i} />
      ))}
      <svg width={W} height={1307} style={{ position: "absolute", left: 0, top: 0, pointerEvents: "none" }}>
        {legends.map((l, i) => (
          <g key={i}>
            <rect x={l.box[0]} y={l.box[1]} width={l.box[2]} height={l.box[3]} fill="#fff" stroke="#555" strokeWidth={1.3} />
            <line x1={l.line[0]} x2={l.line[1]} y1={l.line[2]} y2={l.line[2]} stroke={panels[i].color} strokeWidth={3} />
            <text x={l.text[0]} y={l.text[1]} fontFamily={FONT} fontWeight="bold" fontSize={27} fill="#000">
              {legendText(i)}
            </text>
          </g>
        ))}
        <text
          x={30}
          y={628}
          dy="0.36em"
          transform="rotate(-90, 30, 628)"
          textAnchor="middle"
          fontFamily={FONT}
          fontWeight="bold"
          fontSize={34}
          fill="#000"
        >
          Intensity (a.u.)
        </text>
        <text x={461} y={1290} textAnchor="middle" fontFamily={FONT} fontWeight="bold" fontSize={40} fill="#000">
          2<tspan fontFamily="'Liberation Serif', serif" fontWeight="normal">θ</tspan>
        </text>
      </svg>
    </div>
  )
}
